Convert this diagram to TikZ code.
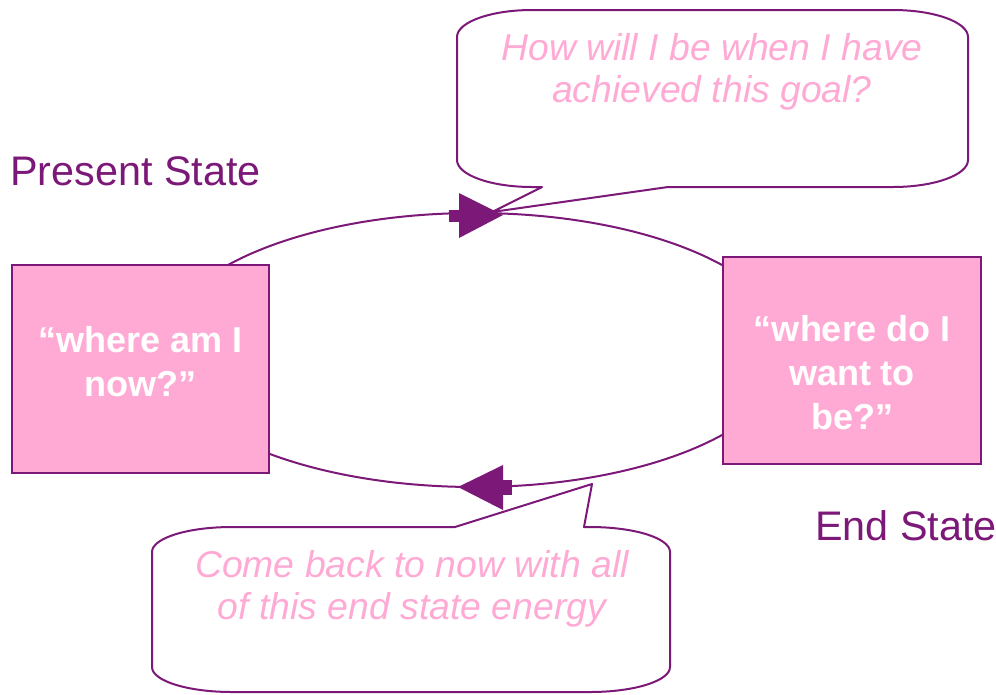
\documentclass[tikz,border=0pt]{standalone}
\usepackage{fontspec}
\setmainfont{Liberation Sans}
\definecolor{plum}{RGB}{123,24,120}
\definecolor{rose}{RGB}{255,170,212}

\begin{document}
\begin{tikzpicture}[x=0.75pt,y=-0.75pt,
    statebox/.style={draw=plum,line width=1.2pt,fill=rose,text=white,align=center,
      font=\bfseries\fontsize{27}{33}\selectfont,inner sep=0pt},
    bubble/.style={draw=plum,line width=1.5pt,fill=white,line join=round},
    bubbletext/.style={text=rose,align=center,font=\itshape\fontsize{28}{31.5}\selectfont,
      inner sep=0pt,anchor=north},
    statename/.style={text=plum,font=\fontsize{31}{37}\selectfont,inner sep=0pt,anchor=base west}]
  \useasboundingbox (0,0) rectangle (996,694);
  % the loop between the two states
  \draw[plum,line width=1.5pt] (475,350) ellipse [x radius=315,y radius=137];
  % speech bubbles
  \draw[bubble] (532,10) -- (893,10) .. controls (934,10) and (968,22) .. (968,37)
    -- (968,160) .. controls (968,175) and (934,187) .. (893,187)
    -- (668,187) -- (492,212) -- (542,187)
    -- (532,187) .. controls (491,187) and (457,175) .. (457,160)
    -- (457,37) .. controls (457,22) and (491,10) .. (532,10) -- cycle;
  \draw[bubble] (232,527) -- (455,527) -- (592,484) -- (584,527)
    -- (590,527) .. controls (634,527) and (670,538) .. (670,552)
    -- (670,667) .. controls (670,681) and (634,692) .. (590,692)
    -- (232,692) .. controls (188,692) and (152,681) .. (152,667)
    -- (152,552) .. controls (152,538) and (188,527) .. (232,527) -- cycle;
  % arrow heads on the loop
  \fill[plum] (449,210) rectangle (459,222);
  \fill[plum] (459,193) -- (503,215) -- (459,238) -- cycle;
  \fill[plum] (503,480) rectangle (512,495);
  \fill[plum] (503,465) -- (458,487) -- (503,510) -- cycle;
  % states
  \node[statebox,minimum width=192.75pt,minimum height=156pt,text depth=11pt] (now) at (140.5,369) {“where am I\\now?”};
  \node[statebox,minimum width=193.5pt,minimum height=155.25pt,text height=104pt] (want) at (852,360.5) {“where do I\\want to\\be?”};
  \node[statename] (present) at (10,185) {Present State};
  \node[statename] (endst) at (815,540) {End State};
  \node[bubbletext] (goalq) at (712,33) {How will I be when I have\\achieved this goal?};
  \node[bubbletext] (nowq) at (412,550) {Come back to now with all\\of this end state energy};
\end{tikzpicture}
\end{document}
